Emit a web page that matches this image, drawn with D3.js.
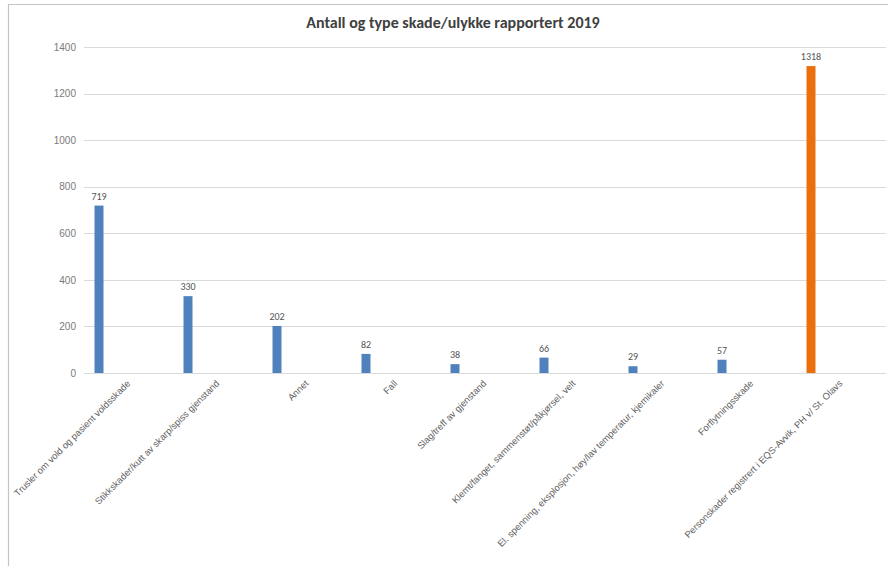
<!DOCTYPE html>
<html><head><meta charset="utf-8">
<script src="https://cdn.jsdelivr.net/npm/d3@7"></script>
<style>
html,body{margin:0;padding:0;background:#fff;}
svg{display:block;font-family:Carlito,"Liberation Sans Narrow","Liberation Sans","DejaVu Sans",sans-serif;}
</style></head>
<body><svg id="c" width="888" height="566"></svg>
<script>
const title = "Antall og type skade/ulykke rapportert 2019";
const categories = [
  "Trusler om vold og pasient voldsskade",
  "Stikkskader/kutt av skarp/spiss gjenstand",
  "Annet",
  "Fall",
  "Slag/treff av gjenstand",
  "Klemt/fanget, sammenstøt/påkjørsel, velt",
  "El. spenning, eksplosjon, høy/lav temperatur, kjemikaler",
  "Forflytningsskade",
  "Personskader registrert i EQS-Avvik, PH v/ St. Olavs"
];
const values = [719, 330, 202, 82, 38, 66, 29, 57, 1318];
const highlight = [false, false, false, false, false, false, false, false, true];
const yTicks = [0, 200, 400, 600, 800, 1000, 1200, 1400];

const svg = d3.select("#c");
// frame
svg.append("path").attr("d","M8.5,566 V4.5 H888").attr("fill","none").attr("stroke","#c4c4c4").attr("stroke-width",1.2);

const x = d3.scaleBand().domain(categories).range([54.5, 855.5]).paddingInner(0.9).paddingOuter(0.45);
const y = d3.scaleLinear().domain([0, 1400]).range([373, 47]);

// gridlines
svg.append("g").selectAll("line").data(yTicks).join("line")
  .attr("x1", 84).attr("x2", 886)
  .attr("y1", d => Math.round(y(d)) + 0.5).attr("y2", d => Math.round(y(d)) + 0.5)
  .attr("stroke", "#dadada").attr("stroke-width", 1);

// y axis labels
const yAxis = d3.axisLeft(y).tickValues(yTicks).tickSize(0).tickPadding(0).tickFormat(d3.format("d"));
const gy = svg.append("g").attr("transform","translate(76,0)").call(yAxis);
gy.select(".domain").remove();
gy.selectAll("text").attr("fill","#7a7a7a").style("font-size","10px");

// bars
const bw = 9;
svg.append("g").selectAll("rect").data(values).join("rect")
  .attr("x", (d,i) => x(categories[i]) + x.bandwidth()/2 - bw/2)
  .attr("width", bw)
  .attr("y", d => y(d))
  .attr("height", d => y(0) - y(d))
  .attr("fill", (d,i) => highlight[i] ? "#ea700d" : "#4f81bd");

// data labels
svg.append("g").selectAll("text").data(values).join("text")
  .attr("x", (d,i) => x(categories[i]) + x.bandwidth()/2)
  .attr("y", d => y(d) - 6)
  .attr("text-anchor","middle")
  .attr("fill","#555").style("font-size","10px")
  .text(d => d);

// x axis labels
const xAxis = d3.axisBottom(x).tickSize(0).tickPadding(0);
const gx = svg.append("g").attr("transform","translate(0,373)").call(xAxis);
gx.select(".domain").remove();
gx.selectAll("text")
  .attr("text-anchor","end")
  .attr("dy", null).attr("y", null)
  .attr("transform","translate(32,11) rotate(-45)")
  .attr("fill","#606060").style("font-size","9.4px");

// title
svg.append("text").attr("x", 453).attr("y", 28).attr("text-anchor","middle")
  .attr("fill","#404040").style("font-size","16px").style("font-weight","600")
  .text(title);
</script></body></html>
